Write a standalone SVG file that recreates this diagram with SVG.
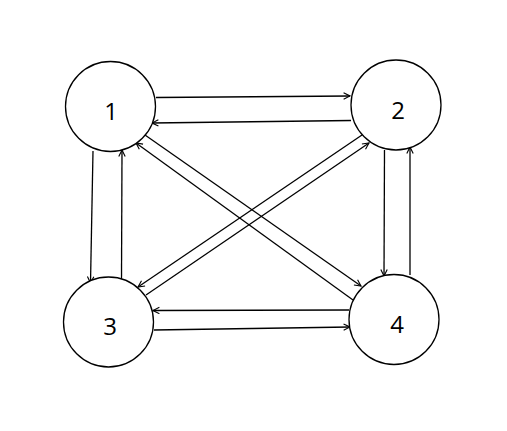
<svg xmlns="http://www.w3.org/2000/svg" width="507" height="431" viewBox="0 0 507 431">
<style>
.node circle{fill:#fff;stroke:#000;stroke-width:1.3}
.node text{font-family:"Open Sans","Liberation Sans",sans-serif;font-size:24px;text-anchor:middle;fill:#000}
.edges line{stroke:#000;stroke-width:1.3;fill:none;marker-end:url(#arr)}
</style>
<defs>
<marker id="arr" viewBox="0 0 10 10" refX="9" refY="5" markerWidth="8" markerHeight="8" markerUnits="userSpaceOnUse" orient="auto">
<polyline points="1,1 9,5 1,9" fill="none" stroke="#000" stroke-width="1.4"/>
</marker>
</defs>
<rect width="507" height="431" fill="#fff"/>
<g class="edges">
<line x1="156" y1="97.5" x2="350" y2="96"/>
<line x1="351" y1="120.5" x2="152" y2="123"/>
<line x1="93" y1="151" x2="90.5" y2="283"/>
<line x1="121.5" y1="279" x2="122" y2="150"/>
<line x1="384.5" y1="150" x2="384" y2="276"/>
<line x1="410" y1="275" x2="410" y2="147"/>
<line x1="145" y1="135" x2="361" y2="286"/>
<line x1="353" y1="300" x2="136" y2="143"/>
<line x1="362" y1="135" x2="138" y2="287"/>
<line x1="146" y1="295" x2="369" y2="143"/>
<line x1="154" y1="330" x2="350" y2="327"/>
<line x1="349" y1="310" x2="153" y2="310.5"/>
</g>
<g id="n1" class="node"><circle cx="110.5" cy="106.5" r="45"/><text x="111" y="119.5">1</text></g>
<g id="n2" class="node"><circle cx="396" cy="105" r="45"/><text x="398" y="119">2</text></g>
<g id="n3" class="node"><circle cx="108.5" cy="322" r="45"/><text x="110" y="335">3</text></g>
<g id="n4" class="node"><circle cx="394" cy="319.5" r="45"/><text x="397" y="333">4</text></g>
</svg>
